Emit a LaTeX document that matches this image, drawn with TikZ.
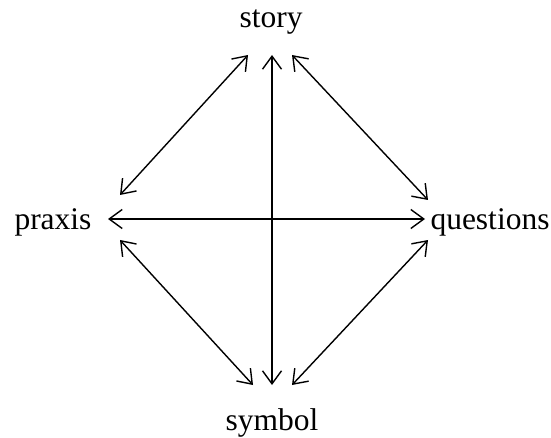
\documentclass[tikz,border=0pt]{standalone}
\usepackage{fontspec}
\setmainfont{Liberation Serif}
\usepackage{tikz}
\usetikzlibrary{arrows.meta}

\begin{document}
\begin{tikzpicture}[x=1pt, y=-1pt, >={Straight Barb[length=13pt, width=19pt]},
    line width=1.4pt, every node/.style={font=\fontsize{31.5}{37}\selectfont, inner sep=0pt, anchor=base}]
            \useasboundingbox (0,0) rectangle (551,438);
            \node (story) at (271,28) {story};
            \node (praxis) at (53,230) {praxis};
            \node (questions) at (490,230) {questions};
            \node (symbol) at (272,430) {symbol};
            
            \draw [<->] ([shift={(1,27)}]story.base) -- ([shift={(0,-45)}]symbol.base);
            \draw [<->] ([shift={(55,-11)}]praxis.base) -- ([shift={(-65,-11)}]questions.base);
            \draw [<->] ([shift={(-23,27)}]story.base) -- ([shift={(67,-35)}]praxis.base);
            \draw [<->] ([shift={(21,27)}]story.base) -- ([shift={(-62,-30)}]questions.base);
            \draw [<->] ([shift={(67,10)}]praxis.base) -- ([shift={(-19,-45)}]symbol.base);
            \draw [<->] ([shift={(-62,10)}]questions.base) -- ([shift={(20,-45)}]symbol.base);
        \end{tikzpicture}
\end{document}
